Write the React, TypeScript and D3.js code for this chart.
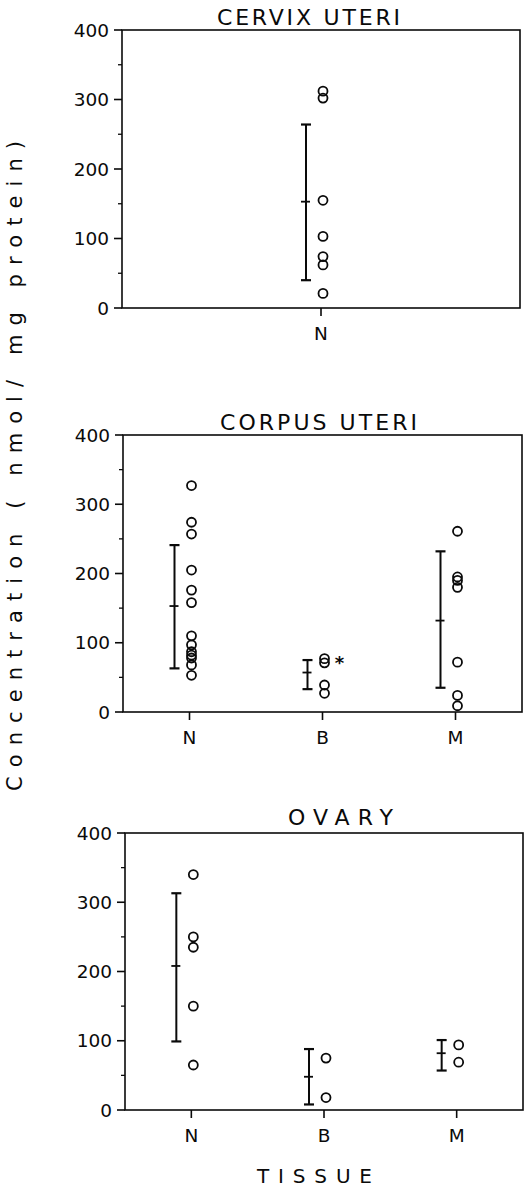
import React from "react";
import * as d3 from "d3";

const categories = ["N", "B", "M"];
const yTicks = [0, 100, 200, 300, 400];
const yMinorTicks = [50, 150, 250, 350];

// Cervix uteri (N only)
const cervixN = [312, 302, 155, 103, 74, 62, 21];
const cervixMean = [153];
const cervixLow = [40];
const cervixHigh = [264];

// Corpus uteri
const corpusN = [327, 274, 257, 205, 176, 158, 110, 97, 87, 82, 78, 68, 53];
const corpusB = [77, 71, 39, 27];
const corpusM = [261, 195, 190, 180, 72, 24, 9];
const corpusMean = [153, 57, 132];
const corpusLow = [63, 33, 35];
const corpusHigh = [241, 75, 232];

// Ovary
const ovaryN = [340, 250, 235, 150, 65];
const ovaryB = [75, 18];
const ovaryM = [94, 69];
const ovaryMean = [208, 48, 82];
const ovaryLow = [99, 8, 57];
const ovaryHigh = [313, 88, 101];

const FONT = "'DejaVu Sans', sans-serif";
const INK = "#0a0a0a";

type PanelProps = {
  title: string;
  titleX: number;
  titleW: number;
  titleY: number;
  x0: number;
  x1: number;
  yTop: number;
  yBottom: number;
  cats: string[];
  points: number[][];
  mean: number[];
  low: number[];
  high: number[];
  star?: number;
};

function Panel(p: PanelProps) {
  const y = d3.scaleLinear().domain([0, 400]).range([p.yBottom, p.yTop]);
  const x = d3.scalePoint<string>().domain(p.cats).range([p.x0, p.x1]).padding(0.5);
  return (
    <g>
      <text x={p.titleX} y={p.titleY} fontFamily={FONT} fontSize={22} textLength={p.titleW} lengthAdjust="spacing" fill={INK}>
        {p.title}
      </text>
      <rect x={p.x0} y={p.yTop} width={p.x1 - p.x0} height={p.yBottom - p.yTop} fill="none" stroke={INK} strokeWidth={1.6} />
      {yTicks.map((t) => (
        <g key={"t" + t}>
          <line x1={p.x0 - 8} x2={p.x0} y1={y(t)} y2={y(t)} stroke={INK} strokeWidth={1.6} />
          <text x={p.x0 - 13} y={y(t) + 6.5} textAnchor="end" fontFamily={FONT} fontSize={18.5} fill={INK}>
            {t}
          </text>
        </g>
      ))}
      {yMinorTicks.map((t) => (
        <line key={"m" + t} x1={p.x0 - 4} x2={p.x0} y1={y(t)} y2={y(t)} stroke={INK} strokeWidth={1.3} />
      ))}
      {p.cats.map((c, i) => {
        const cx = x(c) as number;
        const ex = cx - 15;
        return (
          <g key={c}>
            <line x1={cx} x2={cx} y1={p.yBottom} y2={p.yBottom + 8} stroke={INK} strokeWidth={1.6} />
            <text x={cx} y={p.yBottom + 32} textAnchor="middle" fontFamily={FONT} fontSize={18.5} fill={INK}>
              {c}
            </text>
            <line x1={ex} x2={ex} y1={y(p.low[i])} y2={y(p.high[i])} stroke={INK} strokeWidth={2} />
            <line x1={ex - 5} x2={ex + 5} y1={y(p.low[i])} y2={y(p.low[i])} stroke={INK} strokeWidth={2.2} />
            <line x1={ex - 5} x2={ex + 5} y1={y(p.high[i])} y2={y(p.high[i])} stroke={INK} strokeWidth={2.2} />
            <line x1={ex - 5} x2={ex + 4} y1={y(p.mean[i])} y2={y(p.mean[i])} stroke={INK} strokeWidth={1.8} />
            {p.points[i].map((v, j) => (
              <circle key={j} cx={cx + 2} cy={y(v)} r={4.5} fill="none" stroke={INK} strokeWidth={1.8} />
            ))}
            {p.star === i && (
              <text x={cx + 17} y={y(p.points[i][0]) + 10} textAnchor="middle" fontFamily={FONT} fontSize={18} fontWeight="bold" fill={INK}>
                *
              </text>
            )}
          </g>
        );
      })}
    </g>
  );
}

export default function App() {
  return (
    <svg width={526} height={1189} style={{ position: "absolute", left: 0, top: 0, background: "#fff" }}>
      <rect width={526} height={1189} fill="#fff" />
      <Panel
        title="CERVIX  UTERI"
        titleX={217}
        titleW={183}
        titleY={25}
        x0={122}
        x1={520}
        yTop={30}
        yBottom={308}
        cats={["N"]}
        points={[cervixN]}
        mean={cervixMean}
        low={cervixLow}
        high={cervixHigh}
      />
      <Panel
        title="CORPUS  UTERI"
        titleX={220}
        titleW={197}
        titleY={430}
        x0={123}
        x1={522}
        yTop={435}
        yBottom={712}
        cats={categories}
        points={[corpusN, corpusB, corpusM]}
        mean={corpusMean}
        low={corpusLow}
        high={corpusHigh}
        star={1}
      />
      <Panel
        title="OVARY"
        titleX={288}
        titleW={105}
        titleY={825}
        x0={125}
        x1={523}
        yTop={833}
        yBottom={1110}
        cats={categories}
        points={[ovaryN, ovaryB, ovaryM]}
        mean={ovaryMean}
        low={ovaryLow}
        high={ovaryHigh}
      />
      <text
        transform="translate(22,466) rotate(-90)"
        textAnchor="middle"
        fontFamily={FONT}
        fontSize={21}
        textLength={650}
        lengthAdjust="spacing"
        fill={INK}
      >
        Concentration ( nmol/ mg protein)
      </text>
      <text x={257} y={1183} fontFamily={FONT} fontSize={20} textLength={115} lengthAdjust="spacing" fill={INK}>
        TISSUE
      </text>
    </svg>
  );
}
